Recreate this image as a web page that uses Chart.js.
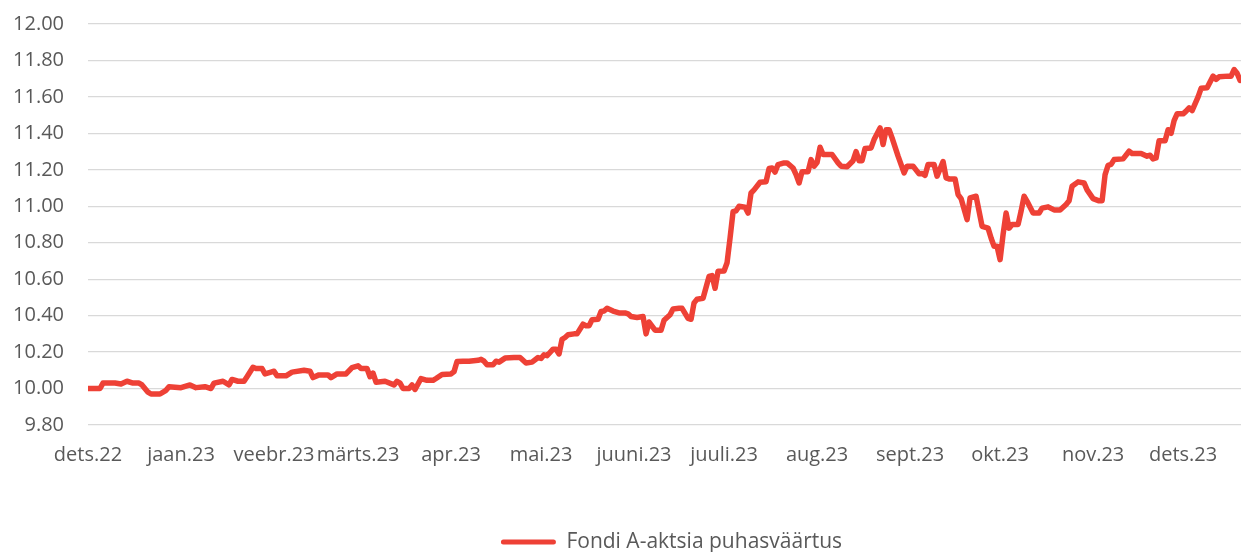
<!DOCTYPE html>
<html>
<head>
<meta charset="utf-8">
<script src="https://cdn.jsdelivr.net/npm/chart.js@4/dist/chart.umd.min.js"></script>
<style>
  html, body { margin: 0; padding: 0; background: #ffffff; }
  #wrap { width: 1241px; height: 552px; position: relative; }
</style>
</head>
<body>
<div id="wrap"><canvas id="c"></canvas></div>
<script>
// Month tick labels and their day offsets (days since 1 Dec 2022)
const monthLabels = ["dets.22","jaan.23","veebr.23","märts.23","apr.23","mai.23","juuni.23","juuli.23","aug.23","sept.23","okt.23","nov.23","dets.23"];
const monthDays   = [0, 31, 62, 90, 121, 151, 182, 212, 243, 274, 304, 335, 365];

const seriesName = "Fondi A-aktsia puhasväärtus";

// Day offsets (since 1 Dec 2022) of the points
const days = [
  0,4,5,9,11,13,15,17,18,20,21,24,26,27,31,34,36,39,41,42,45,47,48,50,52,53,55,56,58,59,
  61,62,63,66,68,72,74,75,77,80,81,83,86,88,90,91,93,94,95,96,99,102,103,104,105,107,108,109,111,113,
  115,116,118,121,122,123,125,127,130,131,132,133,135,136,137,139,142,144,146,148,150,151,152,153,155,156,157,158,159,160,
  162,163,165,166,167,168,170,171,172,173,175,177,179,180,181,183,185,186,187,189,191,192,194,195,197,198,200,201,202,203,
  205,207,208,209,210,212,213,214,215,216,217,219,220,221,222,224,226,227,228,229,230,232,233,235,236,237,238,240,241,242,
  243,244,245,247,248,250,251,253,255,256,257,258,259,261,262,264,265,266,267,268,270,272,273,275,277,278,279,280,282,283,
  285,286,287,289,290,291,293,294,296,298,300,301,302,303,304,305,306,307,308,310,311,312,313,315,317,318,320,322,324,326,
  327,328,330,332,333,335,337,338,339,340,341,342,345,347,348,351,353,354,355,356,357,359,360,361,362,363,365,366,367,368,
  370,371,373,375,376,377,380,381,382,383,384
];

// Net asset value per unit
const navValues = [
  10.00,10.00,10.03,10.03,10.025,10.04,10.03,10.03,10.02,9.98,9.97,9.97,9.99,10.01,10.005,10.02,10.005,10.01,10.00,10.03,10.04,10.02,10.05,10.04,10.04,10.065,10.117,10.11,10.11,10.08,
  10.09,10.095,10.07,10.07,10.09,10.10,10.095,10.06,10.075,10.075,10.06,10.08,10.08,10.115,10.125,10.11,10.11,10.065,10.085,10.035,10.04,10.02,10.04,10.03,10.00,10.00,10.02,9.995,10.055,10.045,
  10.045,10.055,10.077,10.08,10.093,10.148,10.15,10.15,10.155,10.16,10.15,10.13,10.13,10.15,10.145,10.167,10.17,10.17,10.14,10.145,10.17,10.165,10.185,10.18,10.216,10.216,10.19,10.27,10.28,10.295,
  10.30,10.30,10.353,10.345,10.345,10.377,10.38,10.423,10.425,10.44,10.425,10.415,10.415,10.41,10.395,10.39,10.395,10.30,10.365,10.32,10.32,10.375,10.405,10.437,10.44,10.44,10.385,10.38,10.47,10.49,
  10.495,10.615,10.62,10.55,10.643,10.645,10.69,10.826,10.97,10.975,11.00,10.995,10.963,11.073,11.09,11.132,11.135,11.207,11.21,11.188,11.229,11.238,11.238,11.21,11.174,11.128,11.19,11.19,11.256,11.22,
  11.24,11.324,11.284,11.284,11.284,11.238,11.22,11.217,11.25,11.30,11.25,11.25,11.317,11.32,11.366,11.43,11.339,11.42,11.42,11.375,11.275,11.183,11.22,11.22,11.178,11.18,11.17,11.229,11.229,11.165,
  11.245,11.156,11.15,11.15,11.064,11.042,10.927,11.046,11.055,10.89,10.88,10.826,10.78,10.78,10.707,10.845,10.963,10.88,10.90,10.90,10.973,11.055,11.027,10.963,10.963,10.99,10.997,10.98,10.98,11.01,
  11.03,11.11,11.134,11.128,11.09,11.042,11.03,11.03,11.174,11.225,11.23,11.256,11.26,11.302,11.29,11.29,11.275,11.28,11.26,11.265,11.36,11.36,11.42,11.40,11.47,11.507,11.507,11.522,11.54,11.525,
  11.60,11.647,11.65,11.714,11.696,11.71,11.714,11.714,11.75,11.73,11.69
];

const points = days.map((d, i) => ({ x: d, y: navValues[i] }));

const textColor = "#595959";
const fontFamily = "'Open Sans', 'Liberation Sans', sans-serif";
const lineColor = "#EE4136";

// Shift the legend block to the right, as in the reference
const legendShift = {
  id: "legendShift",
  afterLayout(chart) {
    const l = chart.legend;
    if (l) { l.left += 51; l.right += 51; }
  }
};

new Chart(document.getElementById("c"), {
  type: "line",
  data: {
    datasets: [{
      label: seriesName,
      data: points,
      borderColor: lineColor,
      backgroundColor: lineColor,
      borderWidth: 5.5,
      pointRadius: 0,
      tension: 0,
      borderJoinStyle: "round",
      borderCapStyle: "round",
      fill: false
    }]
  },
  plugins: [legendShift],
  options: {
    responsive: true,
    maintainAspectRatio: false,
    animation: false,
    layout: { padding: { top: 24, right: 0, left: 0, bottom: -10.5 } },
    plugins: {
      tooltip: { enabled: false },
      legend: {
        position: "bottom",
        labels: {
          color: textColor,
          font: { family: fontFamily, size: 21 },
          boxWidth: 55,
          boxHeight: 5,
          padding: 54.5,
          generateLabels: (chart) => chart.data.datasets.map((ds, i) => ({
            text: ds.label,
            fillStyle: ds.borderColor,
            strokeStyle: ds.borderColor,
            lineWidth: 0,
            fontColor: textColor,
            borderRadius: 2.5,
            datasetIndex: i,
            hidden: false
          })),
          useBorderRadius: true,
          borderRadius: 2.5
        }
      }
    },
    scales: {
      x: {
        type: "linear",
        min: 0,
        max: 384.3,
        afterBuildTicks: (scale) => { scale.ticks = monthDays.map(v => ({ value: v })); },
        ticks: {
          autoSkip: false,
          maxRotation: 0,
          minRotation: 0,
          padding: 10,
          color: textColor,
          font: { family: fontFamily, size: 20 },
          callback: (value) => { const k = monthDays.indexOf(value); return k >= 0 ? monthLabels[k] : ""; }
        },
        grid: { display: false },
        border: { display: false }
      },
      y: {
        min: 9.8,
        max: 12.0,
        afterFit: (scale) => { scale.width = 88; scale.paddingTop = 0; scale.paddingBottom = 0; },
        ticks: {
          stepSize: 0.2,
          padding: 24,
          color: textColor,
          font: { family: fontFamily, size: 20 },
          callback: (value) => Number(value).toFixed(2)
        },
        grid: { color: "#D9D9D9", lineWidth: 1.3, drawTicks: false },
        border: { display: false }
      }
    }
  }
});
</script>
</body>
</html>
